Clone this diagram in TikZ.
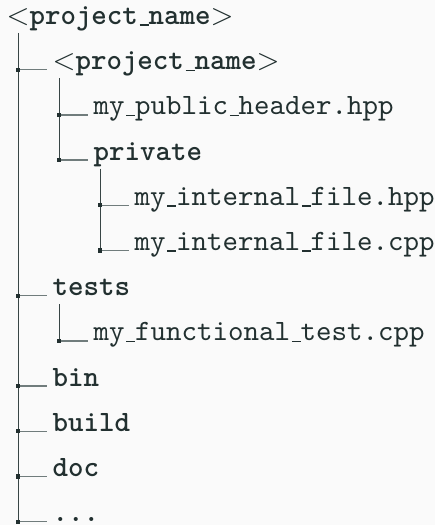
\documentclass[tikz,border=0pt]{standalone}
\definecolor{ink}{RGB}{34,48,48}
\definecolor{rulegray}{RGB}{112,124,124}
\definecolor{paper}{RGB}{250,250,250}
\newcommand\us{\leavevmode\kern.06em\vbox{\hrule height 0pt depth .42pt width .3em}}
\newcommand\ang[1]{{\rmfamily\mdseries<}#1{\rmfamily\mdseries>}}
\begin{document}
\begin{tikzpicture}[x=0.339pt, y=-0.339pt,
  every node/.style={anchor=base west, inner sep=0pt, text=ink, font=\ttfamily},
  dir/.style={font=\ttfamily\bfseries},
  vline/.style={draw=ink!90, line width=0.42pt},
  hline/.style={draw=rulegray, line width=0.48pt}]
\path[use as bounding box, fill=paper] (0,0) rectangle (435,525);
% Entries
\node[dir] (root) at (6,24.5) {\ang{project\us name}};
\node[dir] (proj) at (52,69.7) {\ang{project\us name}};
\node (hdr) at (93,114.9) {my\us public\us header.hpp};
\node[dir] (priv) at (93,160.1) {private};
\node (inth) at (134,205.3) {my\us internal\us file.hpp};
\node (intc) at (134,250.5) {my\us internal\us file.cpp};
\node[dir] (tests) at (52,295.7) {tests};
\node (ftest) at (93,340.9) {my\us functional\us test.cpp};
\node[dir] (bin) at (52,386.1) {bin};
\node[dir] (build) at (52,431.3) {build};
\node[dir] (doc) at (52,476.5) {doc};
\node[dir] (etc) at (52,521.7) {...};

% Branches
\foreach \c in {proj,hdr,priv,inth,intc,tests,ftest,bin,build,doc,etc} {
  \coordinate (\c-j) at ([xshift=-11.42pt]\c.base west);
  \draw[hline] (\c-j) -- ([xshift=-1.6pt]\c.base west);
}
\draw[vline] (root.base -| proj-j) ++(0,8.5) -- (etc-j);
\draw[vline] (proj.base -| hdr-j) ++(0,8.5) -- (priv-j);
\draw[vline] (priv.base -| inth-j) ++(0,8.5) -- (intc-j);
\draw[vline] (tests.base -| ftest-j) ++(0,8.5) -- (ftest-j);
\foreach \c in {proj,hdr,priv,inth,intc,tests,ftest,bin,build,doc,etc}
  \fill[ink] (\c-j) ++(-2.1,-2.1) rectangle ++(4.2,4.2);
\end{tikzpicture}
\end{document}
